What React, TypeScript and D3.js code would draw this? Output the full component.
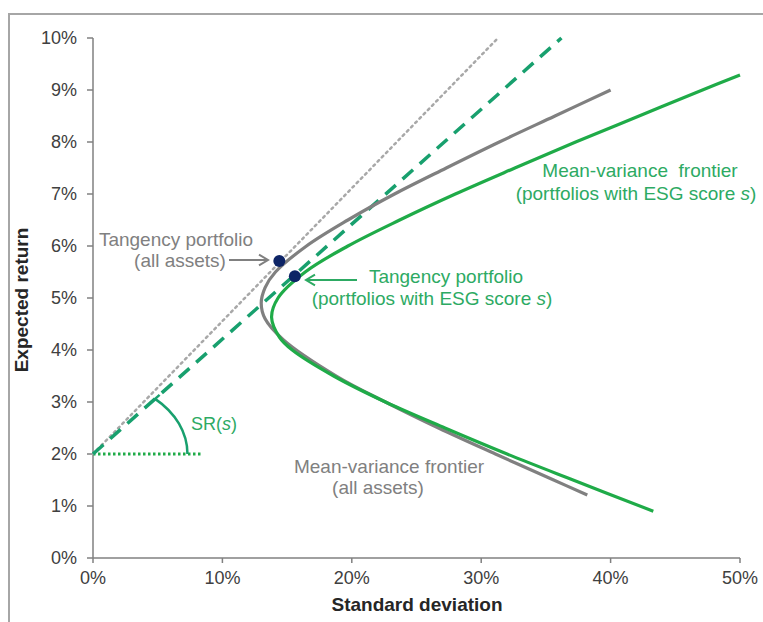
import React from 'react';
import * as d3 from 'd3';

// ---- data (percent units) ----
const xTicks = [0, 10, 20, 30, 40, 50];
const yTicks = [0, 1, 2, 3, 4, 5, 6, 7, 8, 9, 10];

// Mean-variance frontier, all assets: [std dev %, expected return %]
const grayFrontier: [number, number][] = [
  [40.0, 9.0], [35.7, 8.5], [31.4, 8.0], [27.3, 7.5], [23.3, 7.0], [19.7, 6.5],
  [16.5, 6.0], [14.1, 5.5], [13.3, 5.2], [13.0, 4.9], [13.3, 4.6], [14.7, 4.2],
  [18.8, 3.5], [22.6, 3.0], [26.7, 2.5], [31.1, 2.0], [35.6, 1.5], [38.2, 1.21],
];

// Mean-variance frontier, portfolios with ESG score s
const greenFrontier: [number, number][] = [
  [50.0, 9.29], [47.1, 9.0], [42.2, 8.5], [37.3, 8.0], [32.6, 7.5], [28.0, 7.0],
  [23.7, 6.5], [19.7, 6.0], [16.4, 5.5], [14.3, 5.0], [13.8, 4.63], [14.4, 4.25],
  [15.4, 4.0], [18.6, 3.5], [22.6, 3.0], [27.2, 2.5], [32.0, 2.0], [37.1, 1.5],
  [43.3, 0.9],
];

const riskFree: [number, number] = [0, 2];
const grayTangentLine: [number, number][] = [riskFree, [31.3, 10]];
const greenTangentLine: [number, number][] = [riskFree, [36.2, 10]];
const grayTangency: [number, number] = [14.4, 5.71];
const greenTangency: [number, number] = [15.6, 5.42];
const horizontalRef: [number, number][] = [riskFree, [8.5, 2]];
const srArcStartSigma = 4.8;
const srArcEndSigma = 7.3;

const GRAY = '#808080';
const GREEN = '#1fab48';
const TEAL = '#18a06e';
const GTEXT = '#2daa63';
const FONT = '"Liberation Sans", Arial, Helvetica, sans-serif';

export default function App() {
  const W = 763, H = 622;
  const x = d3.scaleLinear().domain([0, 50]).range([93, 740]);
  const y = d3.scaleLinear().domain([0, 10]).range([558, 38]);
  const line = d3.line<[number, number]>().x(d => x(d[0])).y(d => y(d[1]));
  const curve = d3.line<[number, number]>().x(d => x(d[0])).y(d => y(d[1])).curve(d3.curveCatmullRom.alpha(0.5));

  // SR arc
  const cx = x(0), cy = y(riskFree[1]);
  const slopeG = (greenTangentLine[1][1] - riskFree[1]) / greenTangentLine[1][0];
  const sx = x(srArcStartSigma), sy = y(riskFree[1] + slopeG * srArcStartSigma);
  const ex = x(srArcEndSigma), ey = cy;
  const rx = ex - cx;
  const ddx = (sx - cx) / rx;
  const ry = (cy - sy) / Math.sqrt(Math.max(0.01, 1 - ddx * ddx));
  const arcPath = `M${sx},${sy} A${rx},${ry} 0 0 1 ${ex},${ey}`;
  const ang = Math.atan2(sy - cy, sx - cx);
  const capLen = 6;
  const cap = {
    x1: sx - Math.cos(ang) * capLen, y1: sy - Math.sin(ang) * capLen,
    x2: sx + Math.cos(ang) * capLen, y2: sy + Math.sin(ang) * capLen,
  };

  const arrowHead = (tipX: number, tipY: number, dir: number, color: string) => {
    const s = 9;
    return (
      <path d={`M${tipX - dir * s},${tipY - s * 0.6} L${tipX},${tipY} L${tipX - dir * s},${tipY + s * 0.6}`}
        fill="none" stroke={color} strokeWidth={2} strokeLinejoin="miter" />
    );
  };

  const AF = 19;

  return (
    <svg width={W} height={H} style={{ position: 'absolute', left: 0, top: 0, background: '#fff' }}
      fontFamily={FONT}>
      <rect x={0} y={0} width={W} height={H} fill="#fff" />
      <path d={`M9,${H + 5} L9,14 L${W + 5},14`} fill="none" stroke="#a6a6a6" strokeWidth={2} />

      {/* y axis */}
      <line x1={x(0)} x2={x(0)} y1={y(0)} y2={y(10)} stroke={GRAY} strokeWidth={1.5} />
      {yTicks.map(t => (
        <g key={'y' + t}>
          <line x1={x(0) - 6} x2={x(0)} y1={y(t)} y2={y(t)} stroke={GRAY} strokeWidth={1.5} />
          <text x={77} y={y(t)} dy="0.36em" textAnchor="end" fontSize={18} fill="#404040">{t}%</text>
        </g>
      ))}
      {/* x axis */}
      <line x1={x(0)} x2={x(50)} y1={y(0)} y2={y(0)} stroke={GRAY} strokeWidth={1.5} />
      {xTicks.map(t => (
        <g key={'x' + t}>
          <line x1={x(t)} x2={x(t)} y1={y(0)} y2={y(0) + 5} stroke={GRAY} strokeWidth={1.5} />
          <text x={x(t)} y={584} textAnchor="middle" fontSize={18} fill="#404040">{t}%</text>
        </g>
      ))}
      <text x={417} y={611} textAnchor="middle" fontSize={19} fontWeight="bold" fill="#262626">Standard deviation</text>
      <text transform={`translate(28,300) rotate(-90)`} textAnchor="middle" fontSize={19} fontWeight="bold" fill="#262626">Expected return</text>

      {/* horizontal dotted reference */}
      <path d={line(horizontalRef) || ''} fill="none" stroke={GREEN} strokeWidth={3} strokeDasharray="2.5 2.5" />
      {/* tangent lines */}
      <path d={line(grayTangentLine) || ''} fill="none" stroke="#a8a8a8" strokeWidth={2.5} strokeDasharray="2 4" strokeLinecap="round" />
      <path d={line(greenTangentLine) || ''} fill="none" stroke={TEAL} strokeWidth={3.5} strokeDasharray="14 9" />

      {/* frontiers */}
      <path d={curve(grayFrontier) || ''} fill="none" stroke={GRAY} strokeWidth={3.2} />
      <path d={curve(greenFrontier) || ''} fill="none" stroke={GREEN} strokeWidth={3.2} />

      {/* SR arc */}
      <path d={arcPath} fill="none" stroke={TEAL} strokeWidth={2.5} />
      <line {...cap} stroke={TEAL} strokeWidth={2.5} />
      <text x={191} y={430} fontSize={18} fill={GTEXT}>SR(<tspan fontStyle="italic">s</tspan>)</text>

      {/* tangency dots */}
      <circle cx={x(grayTangency[0])} cy={y(grayTangency[1])} r={6} fill="#0d2466" />
      <circle cx={x(greenTangency[0])} cy={y(greenTangency[1])} r={6} fill="#0d2466" />

      {/* gray tangency annotation */}
      <text x={176} y={246} textAnchor="middle" fontSize={AF} fill={GRAY}>Tangency portfolio</text>
      <text x={180} y={267} textAnchor="middle" fontSize={AF} fill={GRAY}>(all assets)</text>
      <line x1={229} x2={268} y1={260} y2={260} stroke={GRAY} strokeWidth={2} />
      {arrowHead(268, 260, 1, GRAY)}

      {/* green tangency annotation */}
      <text x={446} y={283} textAnchor="middle" fontSize={AF} fill={GTEXT}>Tangency portfolio</text>
      <text x={432} y={305} textAnchor="middle" fontSize={AF} fill={GTEXT}>(portfolios with ESG score <tspan fontStyle="italic">s</tspan>)</text>
      <line x1={306} x2={357} y1={280} y2={280} stroke={GTEXT} strokeWidth={2} />
      {arrowHead(306, 280, -1, GTEXT)}

      {/* green frontier label */}
      <text x={640} y={177} textAnchor="middle" fontSize={AF} fill={GTEXT} style={{ whiteSpace: 'pre' }}>Mean-variance  frontier</text>
      <text x={636} y={200} textAnchor="middle" fontSize={AF} fill={GTEXT}>(portfolios with ESG score <tspan fontStyle="italic">s</tspan>)</text>

      {/* gray frontier label */}
      <text x={389} y={473} textAnchor="middle" fontSize={AF} fill={GRAY}>Mean-variance frontier</text>
      <text x={378} y={494} textAnchor="middle" fontSize={AF} fill={GRAY}>(all assets)</text>
    </svg>
  );
}
